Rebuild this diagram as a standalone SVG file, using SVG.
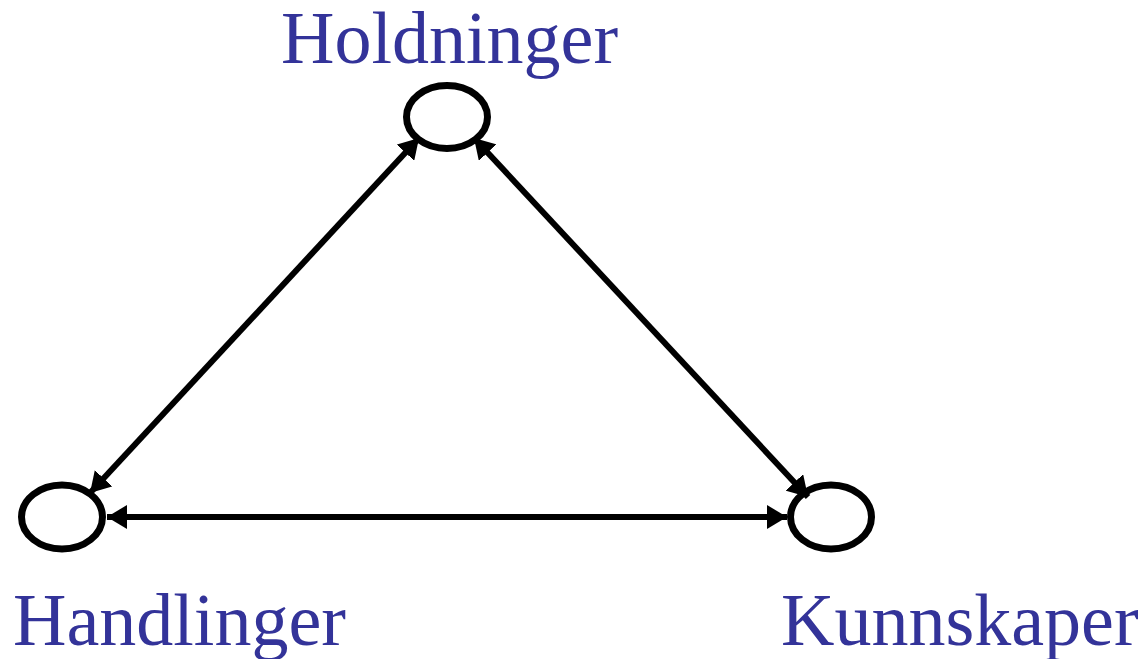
<svg xmlns="http://www.w3.org/2000/svg" width="1143" height="659" viewBox="0 0 1143 659">
<style>
.n{fill:none;stroke:#000;stroke-width:7}
.t{font-family:"Liberation Serif","Times New Roman",serif;font-size:74px;fill:#333399}
.c{stroke:#000;stroke-width:6;fill:none;marker-start:url(#a);marker-end:url(#a)}
</style>
<defs>
<marker id="a" viewBox="0 0 20 24" refX="20" refY="12" markerWidth="20" markerHeight="24" markerUnits="userSpaceOnUse" orient="auto-start-reverse">
<path d="M0,0 L20,12 L0,24 z" fill="#000"/>
</marker>
</defs>
<rect width="1143" height="659" fill="#fff"/>
<g id="connectors">
<line class="c" x1="90" y1="493" x2="419" y2="138"/>
<line class="c" x1="474" y1="138" x2="808" y2="497"/>
<line class="c" x1="107" y1="517" x2="787" y2="517"/>
</g>
<g id="holdninger">
<ellipse class="n" cx="447" cy="117" rx="40.5" ry="31.5"/>
<text class="t" x="281" y="63">Holdninger</text>
</g>
<g id="handlinger">
<ellipse class="n" cx="62" cy="517" rx="40.5" ry="32"/>
<text class="t" x="13" y="645">Handlinger</text>
</g>
<g id="kunnskaper">
<ellipse class="n" cx="831" cy="517" rx="40.5" ry="32"/>
<text class="t" x="781" y="645">Kunnskaper</text>
</g>
</svg>
